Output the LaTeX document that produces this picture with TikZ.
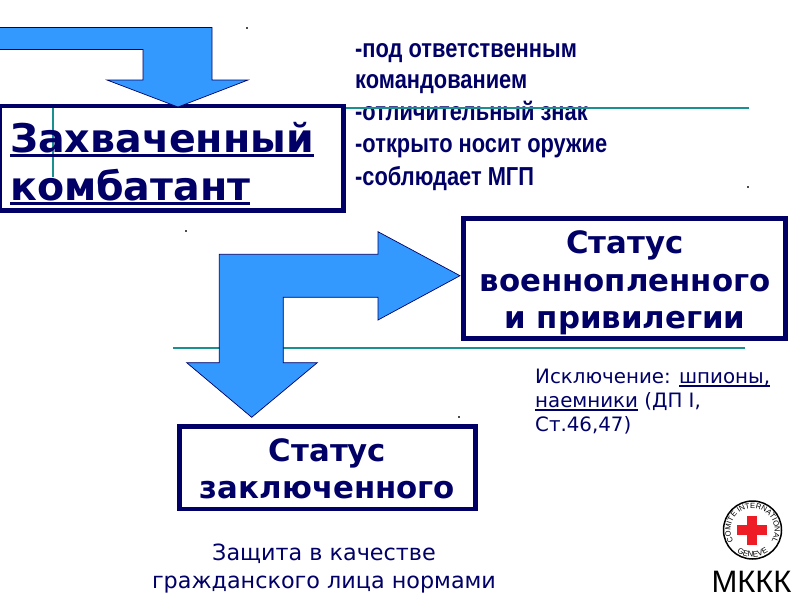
\documentclass[tikz,border=0pt]{standalone}
\usepackage{fontspec}
\setmainfont{DejaVu Sans}
\newfontfamily\narrowb[FakeStretch=0.84]{Liberation Sans Bold}
\newfontfamily\liber{Liberation Sans}
\usetikzlibrary{decorations.text}
\definecolor{navy}{HTML}{000066}
\definecolor{teal2}{HTML}{1A9090}
\definecolor{arrowblue}{HTML}{3399FF}
\definecolor{crossred}{HTML}{EE1C25}
\newcommand{\ulbox}[3]{\setbox0\hbox{#3}\rlap{\rule[-#1pt]{\wd0}{#2pt}}\box0\relax}
\tikzset{
  frame/.style={draw=navy,line width=4.6pt,fill=white},
  bigarrow/.style={draw=navy,line width=0.7pt,fill=arrowblue,line join=miter},
  tealrule/.style={draw=teal2,line width=2pt},
  speck/.style={fill=black!70,inner sep=0pt,minimum size=1.2pt,shape=rectangle},
  boxtxt/.style={text=navy,inner sep=0pt,anchor=base,font=\fontsize{#1}{#1}\selectfont\bfseries},
  listtxt/.style={text=navy,inner sep=0pt,anchor=base west,font=\fontsize{26}{26}\selectfont\narrowb},
  plaintxt/.style={text=navy,inner sep=0pt,anchor=base west,font=\fontsize{#1}{#1}\selectfont},
}
\begin{document}
\begin{tikzpicture}[x=1pt,y=-1pt]
\useasboundingbox[fill=white] (0,0) rectangle (800,600);
% frames
\path[frame] (0,106) rectangle (343.7,210.5);
\path[frame] (463.5,218.5) rectangle (785.3,338.7);
\path[frame] (179.5,426.5) rectangle (475.3,509);
% teal rules
\coordinate (r1a) at (53,108);
\coordinate (r1b) at (53,177);
\coordinate (r2a) at (346,107.7);
\coordinate (r2b) at (749,107.7);
\coordinate (r3a) at (173,347.7);
\coordinate (r3b) at (745,347.7);
\draw[tealrule] (r1a) -- (r1b);
\draw[tealrule] (r3a) -- (r3b);
% arrows
\draw[bigarrow] (0,27.5) -- (212,27.5) -- (212,80) -- (248,80) -- (178,107) -- (107,80) -- (143,80) -- (143,49.5) -- (0,49.5);
\draw[bigarrow] (219.3,254.3) -- (378,254.3) -- (378,231.7) -- (460,275.7) -- (378,320) -- (378,297.3) -- (283.3,297.3) -- (283.3,362.7) -- (317.3,362.7) -- (251.7,417.3) -- (186.7,362.7) -- (219.3,362.7) -- cycle;
% specks
\node[speck] (s1) at (247,28) {};
\node[speck] (s2) at (748,187) {};
\node[speck] (s3) at (186,231) {};
\node[speck] (s4) at (459,417) {};
% box 1
\node[boxtxt=39.5,anchor=base west] (t1a) at (10,152) {\ulbox{5}{2.6}{Захваченный}};
\node[boxtxt=39.5,anchor=base west] (t1b) at (10,200) {\ulbox{5}{2.6}{комбатант}};
% box 2
\node[boxtxt=30.8] (t2a) at (625,253) {Статус};
\node[boxtxt=30.8] (t2b) at (625,291) {военнопленного};
\node[boxtxt=30.8] (t2c) at (625,328) {и привилегии};
% box 3
\node[boxtxt=30.8] (t3a) at (327.5,461.5) {Статус};
\node[boxtxt=30.8] (t3b) at (327.5,498) {заключенного};
% list
\node[listtxt] (l1) at (355,57) {-под ответственным};
\node[listtxt] (l2) at (355,88.5) {командованием};
\node[listtxt] (l3) at (355,120) {-отличительный знак};
\node[listtxt] (l4) at (355,152) {-открыто носит оружие};
\node[listtxt] (l5) at (355,185) {-соблюдает МГП};
\draw[tealrule] (r2a) -- (r2b);
% exception
\node[plaintxt=19.8] (e1) at (535,383) {Исключение: \ulbox{3.5}{1.1}{шпионы,}};
\node[plaintxt=19.8] (e2) at (535,407) {\ulbox{3.5}{1.1}{наемники} (ДП I,};
\node[plaintxt=19.8] (e3) at (535,431) {Ст.46,47)};
% protection
\node[plaintxt=22.3,anchor=base] (p1) at (324,560) {Защита в качестве};
\node[plaintxt=22.3,anchor=base] (p2) at (324,588) {гражданского лица нормами};
% logo
\coordinate (logo) at (752.5,530);
\draw[black,line width=1.5pt] (logo) circle[radius=29];
\fill[crossred] (747,516) rectangle (757,544.5);
\fill[crossred] (737,525) rectangle (767,535);
\path[postaction={decorate,decoration={text along path,text align=center,text={|\fontsize{7.6}{7.6}\selectfont\liber|COMITE INTERNATIONAL}}}]
  (738.4,546.9) arc[start angle=130,end angle=410,radius=22];
\path[postaction={decorate,decoration={text along path,text align=center,text={|\fontsize{8}{8}\selectfont\liber|GENEVE}}}]
  (731.8,547.4) arc[start angle=140,end angle=40,radius=27];
\node[inner sep=0pt,anchor=base,text=black,font=\fontsize{31}{31}\selectfont\liber] (mk) at (751.5,592) {МККК};
\end{tikzpicture}
\end{document}
